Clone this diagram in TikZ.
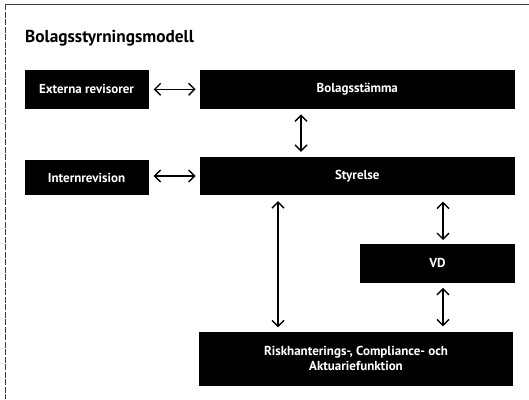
\documentclass[tikz,border=0pt]{standalone}
\usepackage{fontspec}
\setmainfont{PT Sans}
\usetikzlibrary{arrows.meta}
\begin{document}
\begin{tikzpicture}[x=1pt,y=-1pt,
  blackbox/.style={fill=black,draw=none,text=white,font=\bfseries\fontsize{13}{15}\selectfont,align=center,inner sep=0pt},
  biarrow/.style={{Straight Barb[length=6pt,width=12pt,line width=1.4pt]}-{Straight Barb[length=6pt,width=12pt,line width=1.4pt]},line width=1.4pt,black}]
\useasboundingbox (0,0) rectangle (529,399);
\fill[white] (0,0) rectangle (529,399);
\draw[black!75,line width=0.8pt] (5,4) -- (529,4);
\draw[black!75,line width=0.7pt,dash pattern=on 6pt off 1.5pt] (5,4) -- (5,399);
\node[anchor=base west,font=\bfseries\fontsize{17.3}{19}\selectfont,inner sep=0pt] (title) at (25,42) {Bolagsstyrningsmodell};
\node[blackbox,minimum width=124pt,minimum height=38.6pt] (ext) at (86.5,89.3) {Externa revisorer};
\node[blackbox,minimum width=315pt,minimum height=38.6pt] (bol) at (357.3,89.3) {Bolagsstämma};
\node[blackbox,minimum width=124pt,minimum height=35pt] (int) at (86.5,177.5) {Internrevision};
\node[blackbox,minimum width=315pt,minimum height=38pt] (sty) at (357.3,176) {Styrelse};
\node[blackbox,minimum width=155pt,minimum height=39pt] (vd) at (437.5,263.2) {VD};
\node[blackbox,minimum width=314pt,minimum height=54pt] (risk) at (356,358.5) {Riskhanterings-, Compliance- och\\Aktuariefunktion};
\draw[biarrow,shorten <=5pt,shorten >=4pt] (ext.east) -- (bol.west);
\draw[biarrow,shorten <=5pt,shorten >=4pt] (int.east |- sty.west) -- (sty.west);
\draw[biarrow,shorten <=5.5pt,shorten >=5pt] (bol.south -| 301,0) -- (sty.north -| 301,0);
\draw[biarrow,shorten <=6pt,shorten >=4pt] (sty.south -| 278,0) -- (risk.north -| 278,0);
\draw[biarrow,shorten <=6.5pt,shorten >=3.5pt] (sty.south -| 443,0) -- (vd.north -| 443,0);
\draw[biarrow,shorten <=5pt,shorten >=5pt] (vd.south -| 443,0) -- (risk.north -| 443,0);
\end{tikzpicture}
\end{document}
